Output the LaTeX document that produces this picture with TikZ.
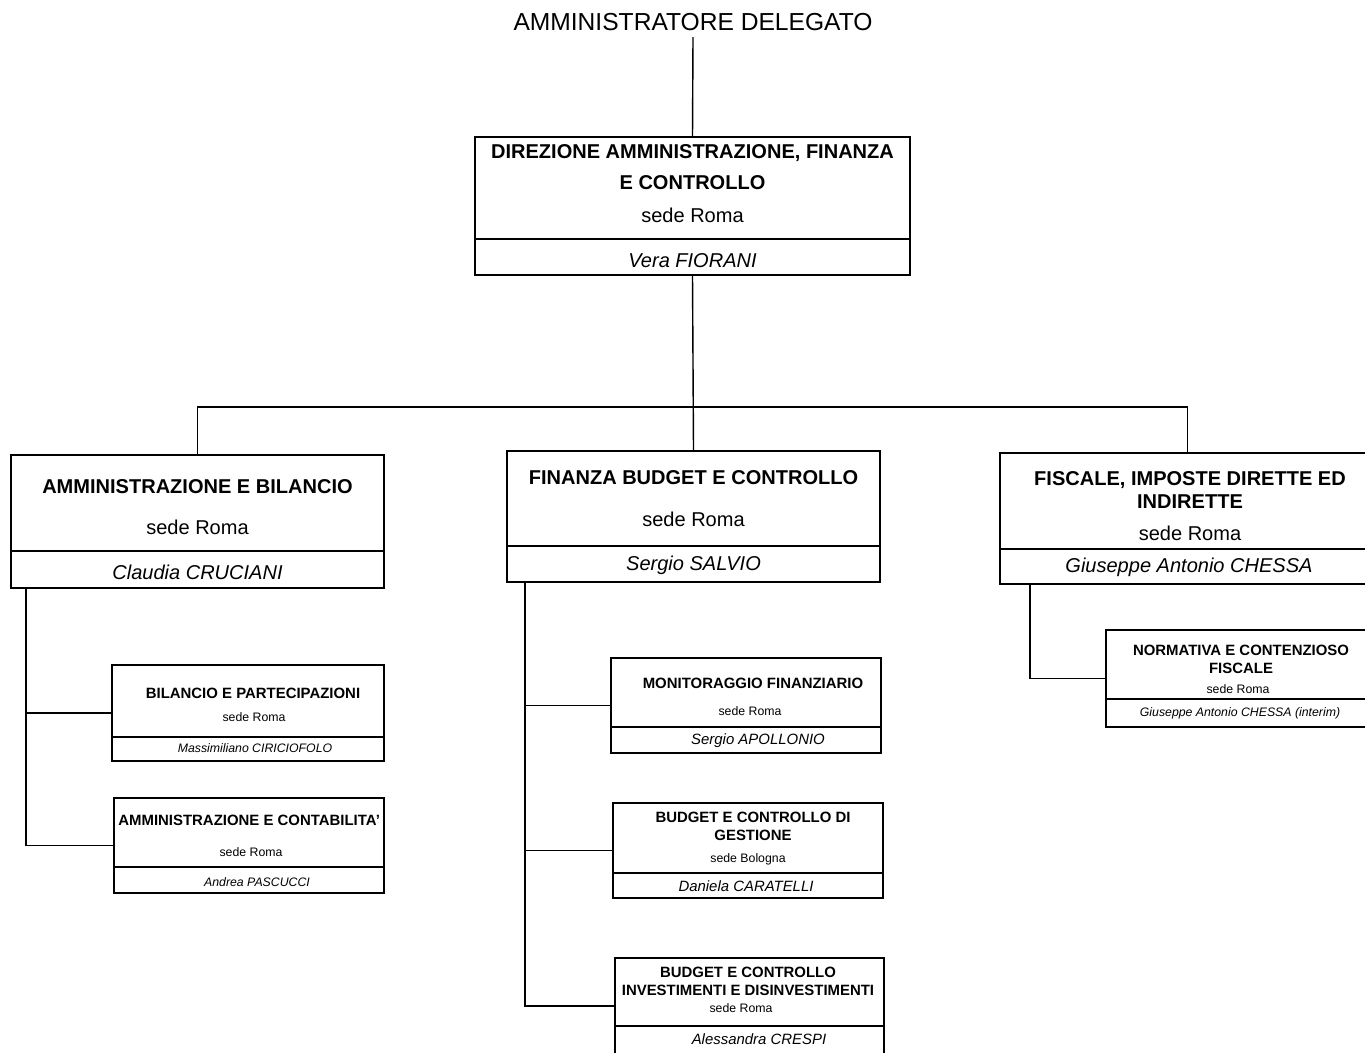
\documentclass[tikz,border=0pt]{standalone}
\usepackage{fontspec}
\setmainfont{Liberation Sans}
\usetikzlibrary{fit}

\tikzset{
  box/.style={draw, line width=1.1pt, inner sep=0pt},
  conn/.style={line width=0.8pt},
  sep/.style={line width=0.9pt},
  titolo/.style={font=\fontsize{11.4}{13.6}\selectfont\bfseries, align=center, inner sep=0pt},
  sede/.style={font=\fontsize{11.4}{13.6}\selectfont, inner sep=0pt},
  resp/.style={font=\fontsize{11.4}{13.6}\selectfont\itshape, inner sep=0pt},
  titolino/.style={font=\fontsize{8.5}{10.2}\selectfont\bfseries, align=center, inner sep=0pt},
  sedina/.style={font=\fontsize{7}{8}\selectfont, inner sep=0pt},
  respino/.style={font=\fontsize{7}{8}\selectfont\itshape, inner sep=0pt},
  respmedio/.style={font=\fontsize{8.5}{10}\selectfont\itshape, inner sep=0pt},
}

\begin{document}
\begin{tikzpicture}[x=0.02cm, y=-0.02cm]
    \useasboundingbox (0,0) rectangle (1365,1052);

    % Vertice
    \node[font=\fontsize{14}{16}\selectfont, inner ysep=3.5pt] (ad) at (693,22) {AMMINISTRATORE DELEGATO};

    % Direzione
    \node[box, fit={(475,137) (910,275)}] (dir) {};
    \draw[sep] (475,239) -- (910,239);
    \node[titolo, font=\fontsize{11.4}{17.6}\selectfont\bfseries] (dirT) at (692.5,167.5) {DIREZIONE AMMINISTRAZIONE, FINANZA\\E CONTROLLO};
    \node[sede] (dirS) at (692.5,215) {sede Roma};
    \node[resp] (dirR) at (692.5,261) {Vera FIORANI};

    % Uffici di primo livello
    \node[box, fit={(11,455) (384,588)}] (amm) {};
    \draw[sep] (11,551) -- (384,551);
    \node[titolo] (ammT) at (197.5,487) {AMMINISTRAZIONE E BILANCIO};
    \node[sede] (ammS) at (197.5,527) {sede Roma};
    \node[resp] (ammR) at (197.5,572) {Claudia CRUCIANI};

    \node[box, fit={(507,451) (880,582)}] (fin) {};
    \draw[sep] (507,546) -- (880,546);
    \node[titolo] (finT) at (693.5,478) {FINANZA BUDGET E CONTROLLO};
    \node[sede] (finS) at (693.5,519) {sede Roma};
    \node[resp] (finR) at (693.5,565) {Sergio SALVIO};

    \node[box, fit={(1000,453) (1375,584)}] (fis) {};
    \draw[sep] (1000,549) -- (1375,549);
    \node[titolo] (fisT) at (1190,490) {FISCALE, IMPOSTE DIRETTE ED\\INDIRETTE};
    \node[sede] (fisS) at (1190,533) {sede Roma};
    \node[resp] (fisR) at (1189,567) {Giuseppe Antonio CHESSA};

    % Uffici di secondo livello - amministrazione
    \node[box, fit={(112,665) (384,761)}] (bil) {};
    \draw[sep] (112,737) -- (384,737);
    \node[titolino] (bilT) at (253,693) {BILANCIO E PARTECIPAZIONI};
    \node[sedina] (bilS) at (254,717) {sede Roma};
    \node[respino] (bilR) at (255,748) {Massimiliano CIRICIOFOLO};

    \node[box, fit={(114,798) (384,893)}] (con) {};
    \draw[sep] (114,867) -- (384,867);
    \begin{scope}
      \clip (114,798) rectangle (384,893);
      \node[titolino, anchor=west] (conT) at (118,820) {AMMINISTRAZIONE E CONTABILITA\char"0027};
    \end{scope}
    \node[sedina] (conS) at (251,852) {sede Roma};
    \node[respino] (conR) at (257,882) {Andrea PASCUCCI};

    % Uffici di secondo livello - finanza
    \node[box, fit={(611,658) (881,753)}] (mon) {};
    \draw[sep] (611,727) -- (881,727);
    \node[titolino] (monT) at (753,683) {MONITORAGGIO FINANZIARIO};
    \node[sedina] (monS) at (750,711) {sede Roma};
    \node[respmedio] (monR) at (758,741) {Sergio APOLLONIO};

    \node[box, fit={(613,803) (883,898)}] (bcg) {};
    \draw[sep] (613,873) -- (883,873);
    \node[titolino] (bcgT) at (753,826) {BUDGET E CONTROLLO DI\\GESTIONE};
    \node[sedina] (bcgS) at (748,859) {sede Bologna};
    \node[respmedio] (bcgR) at (746,886) {Daniela CARATELLI};

    \node[box, fit={(615,958) (884,1054)}] (bci) {};
    \draw[sep] (615,1026) -- (884,1026);
    \node[titolino] (bciT) at (748,981) {BUDGET E CONTROLLO\\INVESTIMENTI E DISINVESTIMENTI};
    \node[sedina] (bciS) at (741,1008) {sede Roma};
    \node[respmedio] (bciR) at (759,1039) {Alessandra CRESPI};

    % Uffici di secondo livello - fiscale
    \node[box, fit={(1106,630) (1375,727)}] (nor) {};
    \draw[sep] (1106,699) -- (1375,699);
    \node[titolino] (norT) at (1241,659) {NORMATIVA E CONTENZIOSO\\FISCALE};
    \node[sedina] (norS) at (1238,689) {sede Roma};
    \node[respino] (norR) at (1240,713) {Giuseppe Antonio CHESSA (interim)};

    % Collegamenti
    \coordinate (bus) at (693,407);
    \draw[conn] (ad.south) -- (dir.north);
    \draw[conn] (dir.south) -- (fin.north);
    \draw[conn] (amm.north) |- (bus) -| (fis.north);

    \draw[conn] ([xshift=0.32cm]amm.south west) |- (bil.west);
    \draw[conn] ([xshift=0.32cm]amm.south west) |- (con.west);

    \draw[conn] ([xshift=0.38cm]fin.south west) |- (mon.west);
    \draw[conn] ([xshift=0.38cm]fin.south west) |- (bcg.west);
    \draw[conn] ([xshift=0.38cm]fin.south west) |- (bci.west);

    \draw[conn] ([xshift=0.62cm]fis.south west) |- (nor.west);

\end{tikzpicture}
\end{document}
